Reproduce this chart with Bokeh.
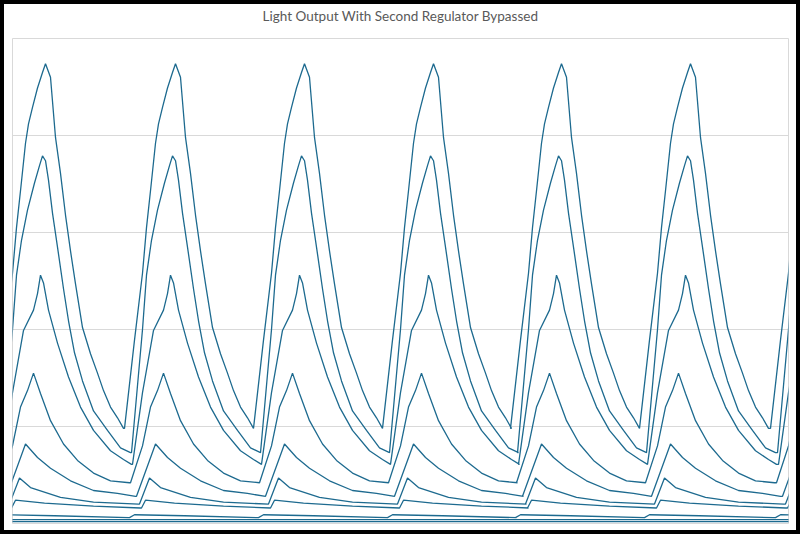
from bokeh.plotting import figure
from bokeh.models import Range1d, FixedTicker, Title
from bokeh.embed import file_html
from bokeh.resources import INLINE

# Cycle start positions (x, samples) (trough of the top trace)
cycle_starts = [-147, -18, 112, 241, 370, 498, 627, 758]

# One-cycle shape of each trace: phase within the cycle and light level
s1_phase = [0, 10, 18, 22, 26, 31, 34, 38, 43, 48, 51, 56, 61, 66, 71, 76, 81, 88, 96, 103, 109, 116, 123, 129]
s1_level = [0.98, 1.89, 2.58, 3.05, 3.43, 3.92, 4.12, 4.29, 4.49, 4.65, 4.74, 4.60, 3.98, 3.61, 3.18, 2.81, 2.47, 2.02, 1.75, 1.55, 1.37, 1.20, 1.09, 0.98]

s2_phase = [7, 18, 22, 27, 33, 40, 45, 48, 51, 54, 58, 63, 69, 74, 80, 88, 99, 113, 126, 136]
s2_level = [0.73, 2.00, 2.56, 2.92, 3.23, 3.51, 3.69, 3.79, 3.74, 3.54, 3.20, 2.85, 2.42, 2.09, 1.76, 1.47, 1.16, 0.96, 0.78, 0.73]

s3_phase = [8, 18, 29, 39, 43, 46, 49, 54, 63, 74, 86, 99, 116, 129, 137]
s3_level = [0.61, 1.35, 1.99, 2.20, 2.37, 2.56, 2.48, 2.20, 1.86, 1.51, 1.20, 0.96, 0.75, 0.66, 0.61]

s4_phase = [6, 18, 26, 33, 39, 46, 56, 69, 83, 99, 116, 135]
s4_level = [0.42, 0.80, 1.20, 1.37, 1.55, 1.34, 1.06, 0.82, 0.65, 0.52, 0.44, 0.42]

s5_phase = [12, 31, 43, 56, 76, 99, 123, 141]
s5_level = [0.28, 0.82, 0.68, 0.57, 0.44, 0.34, 0.31, 0.28]

s6_phase = [15, 25, 36, 66, 99, 144]
s6_level = [0.20, 0.47, 0.37, 0.27, 0.22, 0.20]

s7_phase = [17, 21, 50, 99, 146]
s7_level = [0.16, 0.24, 0.21, 0.18, 0.16]

s8_phase = [5, 10, 60, 134]
s8_level = [0.06, 0.09, 0.08, 0.06]

s9_phase = [0, 129]
s9_level = [0.04, 0.04]

s10_phase = [0, 129]
s10_level = [0.02, 0.02]

traces = [
    (s1_phase, s1_level), (s2_phase, s2_level), (s3_phase, s3_level),
    (s4_phase, s4_level), (s5_phase, s5_level), (s6_phase, s6_level),
    (s7_phase, s7_level), (s8_phase, s8_level), (s9_phase, s9_level),
    (s10_phase, s10_level),
]

TITLE = "Light Output With Second Regulator Bypassed"
LINE = "#1d6a8f"

p = figure(width=792, height=526, output_backend="svg", toolbar_location=None,
           x_range=Range1d(0, 776), y_range=Range1d(0, 5),
           min_border_left=8, min_border_right=8, min_border_top=34, min_border_bottom=7)
p.margin = (4, 0, 0, 4)
p.xaxis.visible = False
p.yaxis.visible = False
p.xgrid.visible = False
p.ygrid.ticker = FixedTicker(ticks=[0, 1, 2, 3, 4, 5])
p.ygrid.grid_line_color = "#d9d9d9"
p.ygrid.grid_line_width = 1
p.outline_line_color = "#d9d9d9"
p.outline_line_width = 1
p.background_fill_color = "white"
p.border_fill_color = "white"
p.styles = {"outline": "4px solid black"}

spacer = Title(text=" ", text_font_size="1px", standoff=12)
title = Title(text=TITLE, align="center", standoff=0, text_font="Lato",
              text_font_size="13.5px", text_font_style="normal", text_color="#595959")
p.add_layout(spacer, "above")
p.add_layout(title, "above")

for ph, lv in traces:
    xs, ys = [], []
    for c in cycle_starts:
        for a, b in zip(ph, lv):
            xs.append(c + a)
            ys.append(b)
    p.line(xs, ys, line_color=LINE, line_width=1.3)

open("out.html", "w").write(file_html(p, INLINE))
